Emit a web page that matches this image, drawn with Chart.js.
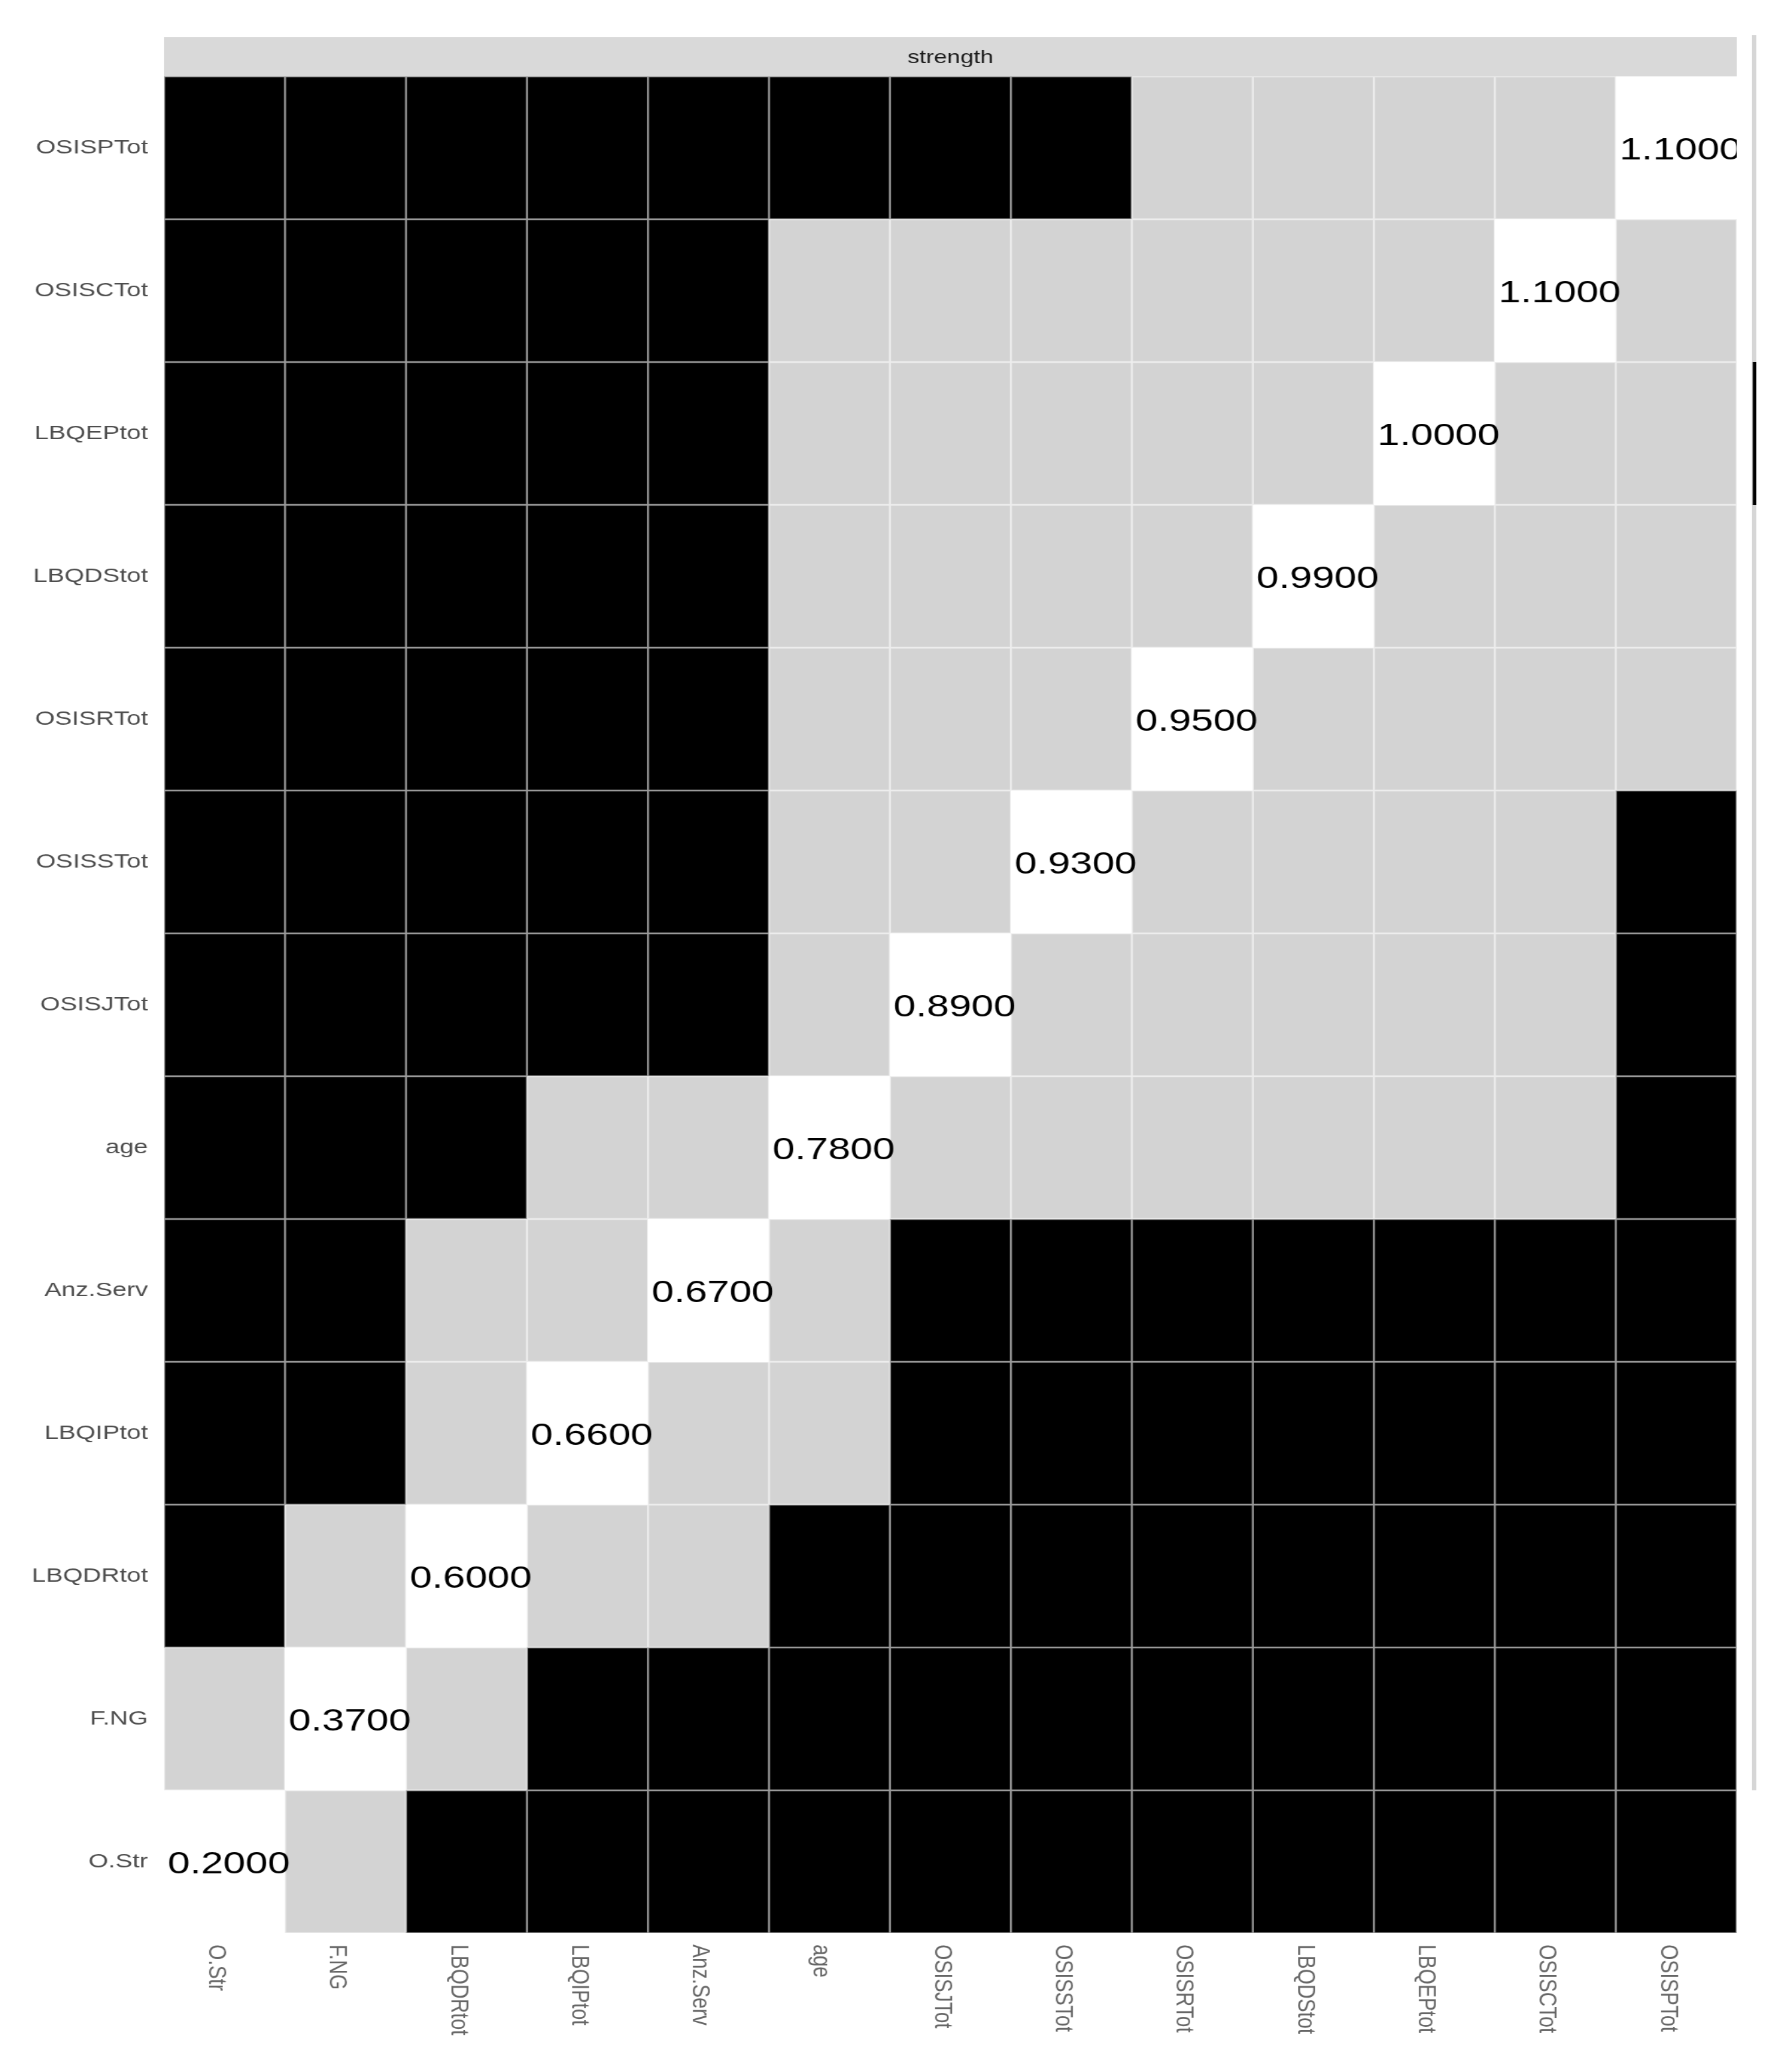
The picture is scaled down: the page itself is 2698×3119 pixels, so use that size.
<!DOCTYPE html>
<html>
<head>
<meta charset="utf-8">
<script src="https://cdn.jsdelivr.net/npm/chart.js@4.4.1/dist/chart.umd.min.js"></script>
<style>
  html, body { margin: 0; padding: 0; background: #fff; overflow: hidden; }
  #wrap { width: 2698px; height: 3119px; }
  /* the reference is stretched sideways, so the whole canvas is too */
  #chart { display: block; transform: scaleX(1.27989); transform-origin: 0 0; }
</style>
</head>
<body>
<div id="wrap"><canvas id="chart" width="2108" height="3119"></canvas></div>
<script>
const facet = 'strength';
const cols = ['O.Str', 'F.NG', 'LBQDRtot', 'LBQIPtot', 'Anz.Serv', 'age', 'OSISJTot',
              'OSISSTot', 'OSISRTot', 'LBQDStot', 'LBQEPtot', 'OSISCTot', 'OSISPTot'];
const rows = cols.slice().reverse(); // top to bottom
const strength = [0.20, 0.37, 0.60, 0.66, 0.67, 0.78, 0.89, 0.93, 0.95, 0.99, 1.00, 1.10, 1.10];

// 1 = significantly different (black), 0 = not different (grey); rows top to bottom
const differs = [
    [1,1,1,1,1,1,1,1,0,0,0,0,0], // OSISPTot
    [1,1,1,1,1,0,0,0,0,0,0,0,0], // OSISCTot
    [1,1,1,1,1,0,0,0,0,0,0,0,0], // LBQEPtot
    [1,1,1,1,1,0,0,0,0,0,0,0,0], // LBQDStot
    [1,1,1,1,1,0,0,0,0,0,0,0,0], // OSISRTot
    [1,1,1,1,1,0,0,0,0,0,0,0,1], // OSISSTot
    [1,1,1,1,1,0,0,0,0,0,0,0,1], // OSISJTot
    [1,1,1,0,0,0,0,0,0,0,0,0,1], // age
    [1,1,0,0,0,0,1,1,1,1,1,1,1], // Anz.Serv
    [1,1,0,0,0,0,1,1,1,1,1,1,1], // LBQIPtot
    [1,0,0,0,0,1,1,1,1,1,1,1,1], // LBQDRtot
    [0,0,0,1,1,1,1,1,1,1,1,1,1], // F.NG
    [0,0,1,1,1,1,1,1,1,1,1,1,1]  // O.Str
];

const FONT = '"Liberation Sans", Arial, Helvetica, sans-serif';

const fillFor = (r, i) => rows[r] === cols[i] ? '#ffffff' : (differs[r][i] ? '#000000' : '#d3d3d3');
const edgeFor = (r, i) => rows[r] === cols[i] ? '#ffffff' : (differs[r][i] ? '#9a9a9a' : '#ededed');

const datasets = rows.map((name, r) => ({
    label: name,
    data: cols.map(() => [r, r + 1]),
    backgroundColor: cols.map((_, i) => fillFor(r, i)),
    borderColor: cols.map((_, i) => edgeFor(r, i)),
    borderWidth: 1.5,
    borderSkipped: false,
    grouped: false,
    barPercentage: 1,
    categoryPercentage: 1
}));

const decorations = {
    id: 'decorations',
    afterDraw(chart) {
        const { ctx, chartArea: a, scales: { x, y } } = chart;
        const rowH = (a.bottom - a.top) / rows.length;
        ctx.save();

        // facet strip on top
        ctx.fillStyle = '#d9d9d9';
        ctx.fillRect(a.left, a.top - 59, a.right - a.left, 59);
        ctx.fillStyle = '#1a1a1a';
        ctx.font = `28px ${FONT}`;
        ctx.textAlign = 'center';
        ctx.textBaseline = 'middle';
        ctx.fillText(facet, (a.left + a.right) / 2, a.top - 28);

        // clipped neighbour strip at the right edge
        ctx.fillStyle = '#d6d6d6';
        ctx.fillRect(a.right + 18, a.top - 62, 5, 62 + rowH * 12);
        ctx.fillStyle = '#000';
        ctx.fillRect(a.right + 19, a.top + rowH * 2, 4, rowH);
        ctx.fillStyle = '#999';
        ctx.fillRect(a.right + 18, a.top + rowH * 2, 1, rowH);

        // x labels, turned clockwise
        ctx.fillStyle = '#666';
        ctx.font = `30px ${FONT}`;
        ctx.textAlign = 'left';
        ctx.textBaseline = 'middle';
        cols.forEach((c, i) => {
            ctx.save();
            ctx.translate(x.getPixelForValue(i) - 10, a.bottom + 17);
            ctx.rotate(Math.PI / 2);
            ctx.fillText(c, 0, 0);
            ctx.restore();
        });

        // values on the diagonal
        ctx.beginPath();
        ctx.rect(a.left, a.top, a.right - a.left, a.bottom - a.top);
        ctx.clip();
        ctx.fillStyle = '#000';
        ctx.font = `47px ${FONT}`;
        ctx.textAlign = 'center';
        ctx.textBaseline = 'alphabetic';
        cols.forEach((c, i) => {
            const r = rows.indexOf(c);
            ctx.fillText(strength[i].toFixed(4), x.getPixelForValue(i) + 5, y.getPixelForValue(r + 0.5) + 17);
        });
        ctx.restore();
    }
};

new Chart(document.getElementById('chart'), {
    type: 'bar',
    data: { labels: cols, datasets },
    options: {
        responsive: false,
        animation: false,
        layout: { padding: { top: 115, right: 65, left: 0, bottom: 0 } },
        plugins: { legend: { display: false }, tooltip: { enabled: false } },
        scales: {
            x: {
                type: 'category',
                offset: true,
                ticks: { display: false },
                grid: { display: false },
                border: { display: false },
                afterFit: s => { s.height = 209; }
            },
            y: {
                type: 'linear',
                reverse: true,
                min: 0,
                max: rows.length,
                afterBuildTicks: s => { s.ticks = rows.map((_, i) => ({ value: i + 0.5 })); },
                afterFit: s => { s.width = 193; },
                ticks: {
                    autoSkip: false,
                    padding: 19,
                    color: '#4d4d4d',
                    font: { family: FONT, size: 30 },
                    callback: v => rows[Math.floor(v)]
                },
                grid: { display: false, drawTicks: false },
                border: { display: false }
            }
        }
    },
    plugins: [decorations]
});
</script>
</body>
</html>
